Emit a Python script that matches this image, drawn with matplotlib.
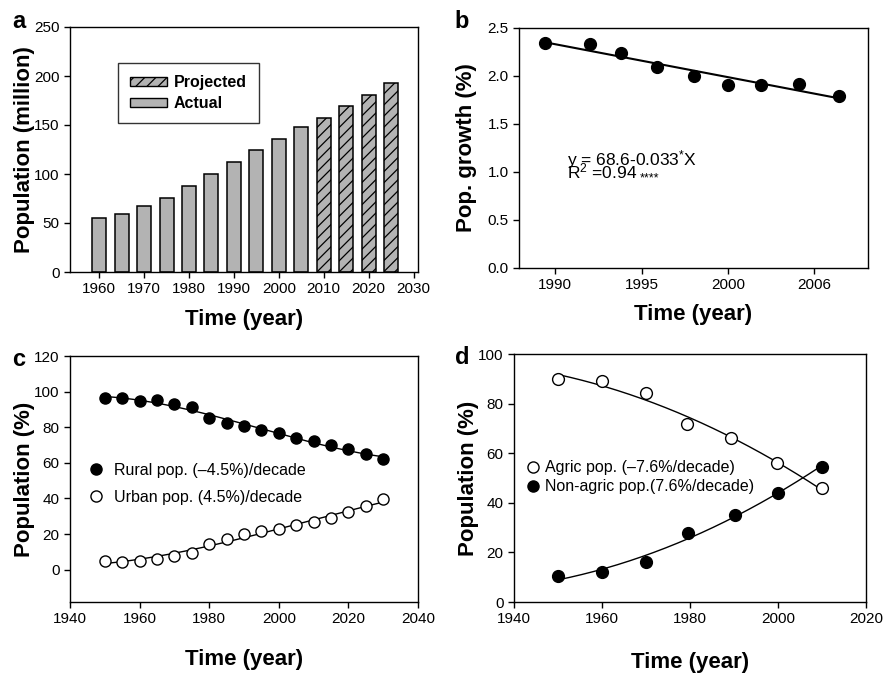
import numpy as np
import matplotlib
matplotlib.use("Agg")
import matplotlib.pyplot as plt
from matplotlib.patches import Patch
from matplotlib.lines import Line2D
from matplotlib.transforms import IdentityTransform

plt.rcParams["font.family"] = ["Liberation Sans", "DejaVu Sans"]
plt.rcParams["mathtext.default"] = "regular"
plt.rcParams["hatch.linewidth"] = 0.9

# ---- data ------------------------------------------------------------------

# (a) population, million
years_actual = [1960, 1965, 1970, 1975, 1980, 1985, 1990, 1995, 2000, 2005]
pop_actual = [55, 59.5, 67, 76, 88, 100, 112, 124, 136, 147.6]
years_proj = [2010, 2015, 2020, 2025]
pop_proj = [157, 169, 180.6, 193]

# (b) population growth, %
years_growth = [1989.4, 1992.0, 1993.8, 1995.9, 1998.0, 2000.0, 2001.9, 2004.1, 2006.4]
growth = [2.34, 2.33, 2.24, 2.09, 2.00, 1.91, 1.91, 1.915, 1.79]
growth_ticks = [1990, 1995, 2000, 2005]
growth_ticklabels = ["1990", "1995", "2000", "2006"]

# (c) rural / urban population, %
years_ru = [1950, 1955, 1960, 1965, 1970, 1975, 1980, 1985, 1990,
            1995, 2000, 2005, 2010, 2015, 2020, 2025, 2030]
rural = [96.2, 96.6, 94.7, 95.1, 93.2, 91.5, 84.9, 82.5, 80.4,
         78.2, 76.9, 74.1, 72.2, 69.9, 67.5, 64.7, 62.4]
urban = [4.9, 4.5, 4.9, 6.2, 7.7, 9.6, 14.6, 17.4, 19.9,
         21.6, 22.9, 25.1, 26.6, 29.1, 32.1, 35.6, 39.4]

# (d) agric / non-agric population, %
years_agric = [1950, 1960, 1970, 1979.3, 1989.3, 1999.8, 2010]
agric = [90.0, 89.0, 84.3, 71.8, 66.1, 55.9, 46.0]
years_nonagric = [1950, 1960, 1970, 1979.5, 1990.2, 2000, 2010]
nonagric = [10.3, 11.9, 16.3, 27.8, 35.1, 44.1, 54.4]

BAR_GRAY = "#b3b3b3"
TICK_FS = 11
LABEL_FS = 16

W, H = 884, 673
fig = plt.figure(figsize=(W / 100, H / 100), dpi=100)


def add_axes(x0, x1, y0, y1):
    return fig.add_axes([x0 / W, 1 - y1 / H, (x1 - x0) / W, (y1 - y0) / H])


def style(ax):
    for s in ax.spines.values():
        s.set_linewidth(1.0)
    ax.tick_params(direction="out", length=4, width=1, labelsize=TICK_FS,
                   top=False, right=False)


def labels(ax, xlab_y, ylab_pad):
    ax.set_xlabel("Time (year)", fontsize=LABEL_FS, fontweight="bold")
    ax.xaxis.set_label_coords(0.5, xlab_y)
    ax.yaxis.labelpad = ylab_pad


ax_a = add_axes(70, 418, 27, 272)
ax_b = add_axes(519, 868, 28, 268)
ax_c = add_axes(70, 418, 356, 602)
ax_d = add_axes(514, 866, 354, 602)

# ---- (a) -------------------------------------------------------------------
ax_a.bar(years_actual, pop_actual, width=3.1, color=BAR_GRAY,
         edgecolor="black", linewidth=1.1)
ax_a.bar(years_proj, pop_proj, width=3.1, color=BAR_GRAY,
         edgecolor="black", linewidth=1.1, hatch="///")
ax_a.set_xlim(1953.5, 2031)
ax_a.set_ylim(0, 250)
ax_a.set_xticks(range(1960, 2031, 10))
ax_a.set_yticks(range(0, 251, 50))
style(ax_a)
ax_a.set_ylabel("Population (million)", fontsize=LABEL_FS, fontweight="bold")
labels(ax_a, -0.152, -0.5)
handles = [Patch(facecolor=BAR_GRAY, edgecolor="black", hatch="///", label="Projected"),
           Patch(facecolor=BAR_GRAY, edgecolor="black", label="Actual")]
leg = ax_a.legend(handles=handles, loc="upper left", bbox_to_anchor=(0.138, 0.853),
                  borderaxespad=0, fancybox=False, edgecolor="black",
                  handlelength=2.3, handleheight=0.45, labelspacing=0.38,
                  handletextpad=0.45, borderpad=0.75,
                  prop={"weight": "bold", "size": 11.5})
leg.get_frame().set_linewidth(1)

# ---- (b) -------------------------------------------------------------------
coef = np.polyfit(years_growth, growth, 1)
xb = np.array([years_growth[0], years_growth[-1]])
ax_b.plot(xb, np.polyval(coef, xb), color="black", lw=1.5)
ax_b.plot(years_growth, growth, "o", color="black", ms=8.5)
ax_b.set_xlim(1987.9, 2008.1)
ax_b.set_ylim(0, 2.5)
ax_b.set_xticks(growth_ticks)
ax_b.set_xticklabels(growth_ticklabels)
ax_b.set_yticks(np.arange(0, 2.51, 0.5))
ax_b.set_yticklabels([f"{v:.1f}" for v in np.arange(0, 2.51, 0.5)])
style(ax_b)
ax_b.set_ylabel("Pop. growth (%)", fontsize=LABEL_FS, fontweight="bold")
labels(ax_b, -0.152, 7.5)
ax_b.text(1990.7, 1.07, "y = 68.6-0.033$^{*}$X", fontsize=12.5, va="baseline")
r2 = ax_b.text(1990.7, 0.935, "R$^{2}$ =0.94", fontsize=12.5, va="baseline")
# significance stars just after the R2 value
renderer = fig.canvas.get_renderer()
bb = r2.get_window_extent(renderer)
base_y = ax_b.transData.transform((1990.7, 0.935))[1]
fig.text(bb.x1 + 2, base_y - 3, "****", fontsize=9, va="baseline",
         transform=IdentityTransform())

# ---- (c) -------------------------------------------------------------------
xc = np.linspace(years_ru[0], years_ru[-1], 200)
ax_c.plot(xc, np.polyval(np.polyfit(years_ru, rural, 3), xc), color="black", lw=1)
ax_c.plot(xc, np.polyval(np.polyfit(years_ru, urban, 3), xc), color="black", lw=1)
ax_c.plot(years_ru, rural, "o", color="black", ms=8)
ax_c.plot(years_ru, urban, "o", mfc="white", mec="black", mew=1, ms=8)
ax_c.set_xlim(1940, 2040)
ax_c.set_ylim(-18.2, 120)
ax_c.set_xticks(range(1940, 2041, 20))
ax_c.set_yticks(range(0, 121, 20))
style(ax_c)
ax_c.set_ylabel("Population (%)", fontsize=LABEL_FS, fontweight="bold")
labels(ax_c, -0.192, -0.5)
hc = [Line2D([], [], ls="none", marker="o", color="black", ms=8,
             label="Rural pop. (\u20134.5%)/decade"),
      Line2D([], [], ls="none", marker="o", mfc="white", mec="black", ms=8,
             label="Urban pop. (4.5%)/decade")]
ax_c.legend(handles=hc, loc="upper left", bbox_to_anchor=(0.055, 0.565),
            frameon=False, borderaxespad=0, borderpad=0, handlelength=0.8,
            handletextpad=0.75, labelspacing=0.72, fontsize=11.5)

# ---- (d) -------------------------------------------------------------------
xd = np.linspace(1950, 2010, 200)
ax_d.plot(xd, np.polyval(np.polyfit(years_agric, agric, 2), xd), color="black", lw=1)
ax_d.plot(xd, np.polyval(np.polyfit(years_nonagric, nonagric, 2), xd), color="black", lw=1)
ax_d.plot(years_agric, agric, "o", mfc="white", mec="black", mew=1, ms=8.5)
ax_d.plot(years_nonagric, nonagric, "o", color="black", ms=8.5)
ax_d.set_xlim(1940, 2020)
ax_d.set_ylim(0, 100)
ax_d.set_xticks(range(1940, 2021, 20))
ax_d.set_yticks(range(0, 101, 20))
style(ax_d)
ax_d.set_ylabel("Population (%)", fontsize=LABEL_FS, fontweight="bold")
labels(ax_d, -0.203, -0.5)
hd = [Line2D([], [], ls="none", marker="o", mfc="white", mec="black", ms=8,
             label="Agric pop. (\u20137.6%/decade)"),
      Line2D([], [], ls="none", marker="o", color="black", ms=8,
             label="Non-agric pop.(7.6%/decade)")]
ax_d.legend(handles=hd, loc="upper left", bbox_to_anchor=(0.035, 0.572),
            frameon=False, borderaxespad=0, borderpad=0, handlelength=0.8,
            handletextpad=0.4, labelspacing=0.25, fontsize=11.5)

# ---- panel letters ---------------------------------------------------------
for letter, (px, py) in zip("abcd", [(19, 22), (462, 22), (19, 360), (462, 358)]):
    fig.text(px / W, 1 - py / H, letter, fontsize=17, fontweight="bold",
             ha="center", va="center")

fig.savefig("out.png", dpi=100)
